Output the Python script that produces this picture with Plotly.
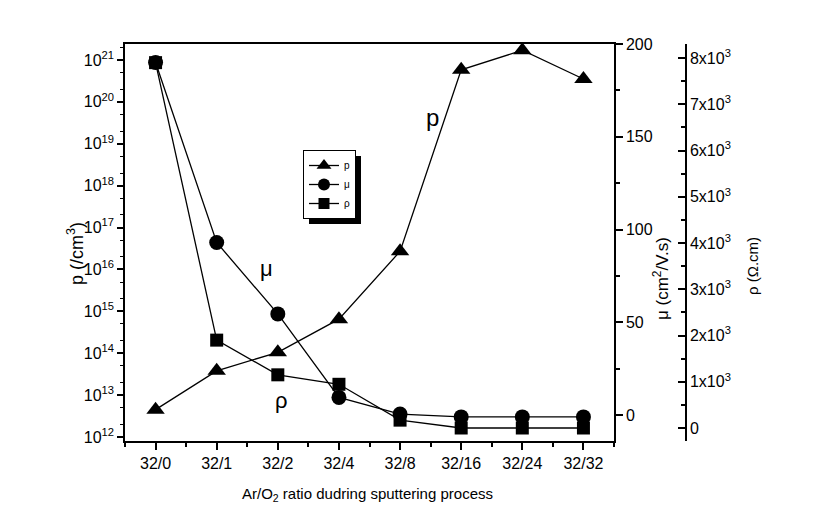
import plotly.graph_objects as go

# ---------------- data ----------------
categories = ["32/0", "32/1", "32/2", "32/4", "32/8", "32/16", "32/24", "32/32"]
carrier_p = [4.5e12, 3.8e13, 1.05e14, 6.5e14, 2.7e16, 5.8e20, 1.7e21, 3.5e20]   # /cm3
mobility = [190, 93, 54.5, 9.5, 0.5, -1, -1, -1]                              # cm2/V.s
resistivity = [7900, 1900, 1150, 945, 170, 0, 0, 0]                           # ohm.cm

log_tickvals = [10.0 ** k for k in range(12, 22)]
log_ticktext = ["10<sup>%d</sup>" % k for k in range(12, 22)]
mu_tickvals = [0, 50, 100, 150, 200]
rho_tickvals = [0, 1000, 2000, 3000, 4000, 5000, 6000, 7000, 8000]
rho_ticktext = ["0"] + ["%dx10<sup>3</sup>" % k for k in range(1, 9)]

x_idx = list(range(len(categories)))

FONT = "Liberation Sans, Arial, sans-serif"
W, H = 814, 525
L_M, R_M, T_M, B_M = 125, 128, 44, 84
PW = W - L_M - R_M
PH = H - T_M - B_M
XDOM = (614 - L_M) / PW


def px(xp):
    return (xp - L_M) / PW


def py(yp):
    return (H - B_M - yp) / PH


fig = go.Figure()

line_style = dict(color="black", width=1.3)

fig.add_trace(go.Scatter(x=x_idx, y=carrier_p, mode="lines+markers", name="p",
                         line=line_style, showlegend=False,
                         marker=dict(symbol="triangle-up", size=16, color="black"),
                         yaxis="y"))
fig.add_trace(go.Scatter(x=x_idx, y=resistivity, mode="lines+markers", name="ρ",
                         line=line_style, showlegend=False,
                         marker=dict(symbol="square", size=13, color="black"),
                         yaxis="y3"))
fig.add_trace(go.Scatter(x=x_idx, y=mobility, mode="lines+markers", name="μ",
                         line=line_style, showlegend=False,
                         marker=dict(symbol="circle", size=15, color="black"),
                         yaxis="y2"))

# legend-only entries (smaller symbols like the reference)
for nm, sym, sz in [("p", "triangle-up", 13), ("μ", "circle", 12), ("ρ", "square", 11)]:
    fig.add_trace(go.Scatter(x=[None], y=[None], mode="lines+markers", name=nm,
                             line=dict(color="black", width=1.3),
                             marker=dict(symbol=sym, size=sz, color="black"),
                             yaxis="y"))

axis_common = dict(showgrid=False, zeroline=False, showline=True, linecolor="black",
                   linewidth=1.5, tickcolor="black", tickwidth=1.5,
                   tickfont=dict(family=FONT, size=16, color="black"))

fig.update_layout(
    width=W, height=H,
    margin=dict(l=L_M, r=R_M, t=T_M, b=B_M),
    paper_bgcolor="white", plot_bgcolor="white",
    font=dict(family=FONT, color="black"),
    xaxis=dict(domain=[0, XDOM], range=[-0.5, 7.5], tickmode="array",
               tickvals=x_idx, ticktext=categories, ticks="outside", ticklen=7,
               mirror=True,
               minor=dict(ticks="outside", ticklen=4, dtick=0.5, tick0=0.5,
                          tickcolor="black", tickwidth=1.5),
               **axis_common),
    yaxis=dict(type="log", range=[11.905, 21.38], tickmode="array",
               tickvals=log_tickvals, ticktext=log_ticktext, ticks="outside",
               ticklen=6,
               minor=dict(ticks="outside", ticklen=3, tickcolor="black", tickwidth=1),
               **axis_common),
    yaxis2=dict(overlaying="y", side="right", anchor="x", range=[-14, 200],
                tickmode="array", tickvals=mu_tickvals, ticks="outside", ticklen=7,
                minor=dict(ticks="outside", ticklen=4, dtick=25, tick0=0,
                           tickcolor="black", tickwidth=1.5),
                **axis_common),
    yaxis3=dict(overlaying="y", side="right", anchor="free", position=1.0,
                range=[-281, 8303], tickmode="array", tickvals=rho_tickvals,
                ticktext=rho_ticktext, ticks="inside", ticklen=7,
                minor=dict(ticks="inside", ticklen=4, dtick=500, tick0=0,
                           tickcolor="black", tickwidth=1.5),
                **axis_common),
    legend=dict(x=px(303), y=py(150), xanchor="left", yanchor="top",
                bgcolor="white", bordercolor="black", borderwidth=1,
                font=dict(family=FONT, size=10, color="black"),
                tracegroupgap=0, itemwidth=30),
    showlegend=True,
)

# legend shadow
fig.add_shape(type="rect", xref="paper", yref="paper",
              x0=px(309), x1=px(361), y0=py(224), y1=py(156),
              fillcolor="black", line=dict(width=0), layer="above")

# axis titles as annotations
fig.add_annotation(text="p (/cm<sup>3</sup>)", xref="paper", yref="paper",
                   x=px(75), y=py(254), xanchor="center", yanchor="middle",
                   showarrow=False, textangle=-90,
                   font=dict(family=FONT, size=18, color="black"))
fig.add_annotation(text="μ (cm<sup>2</sup>/V.s)", xref="paper", yref="paper",
                   x=px(661), y=py(279), xanchor="center", yanchor="middle",
                   showarrow=False, textangle=-90,
                   font=dict(family=FONT, size=17, color="black"))
fig.add_annotation(text="ρ (Ω.cm)", xref="paper", yref="paper",
                   x=px(752), y=py(266), xanchor="center", yanchor="middle",
                   showarrow=False, textangle=-90,
                   font=dict(family=FONT, size=15, color="black"))
fig.add_annotation(text="Ar/O<sub>2</sub> ratio dudring sputtering process",
                   xref="paper", yref="paper", x=px(367), y=py(494),
                   xanchor="center", yanchor="middle", showarrow=False,
                   font=dict(family=FONT, size=15, color="black"))

# in-plot series labels
for txt, xp_, yp_, sz in [("p", 432, 117, 24), ("μ", 266, 268, 22), ("ρ", 281, 400, 22)]:
    fig.add_annotation(text=txt, xref="paper", yref="paper", x=px(xp_), y=py(yp_),
                       xanchor="center", yanchor="middle", showarrow=False,
                       font=dict(family=FONT, size=sz, color="black"))

fig.write_html("out.html")
